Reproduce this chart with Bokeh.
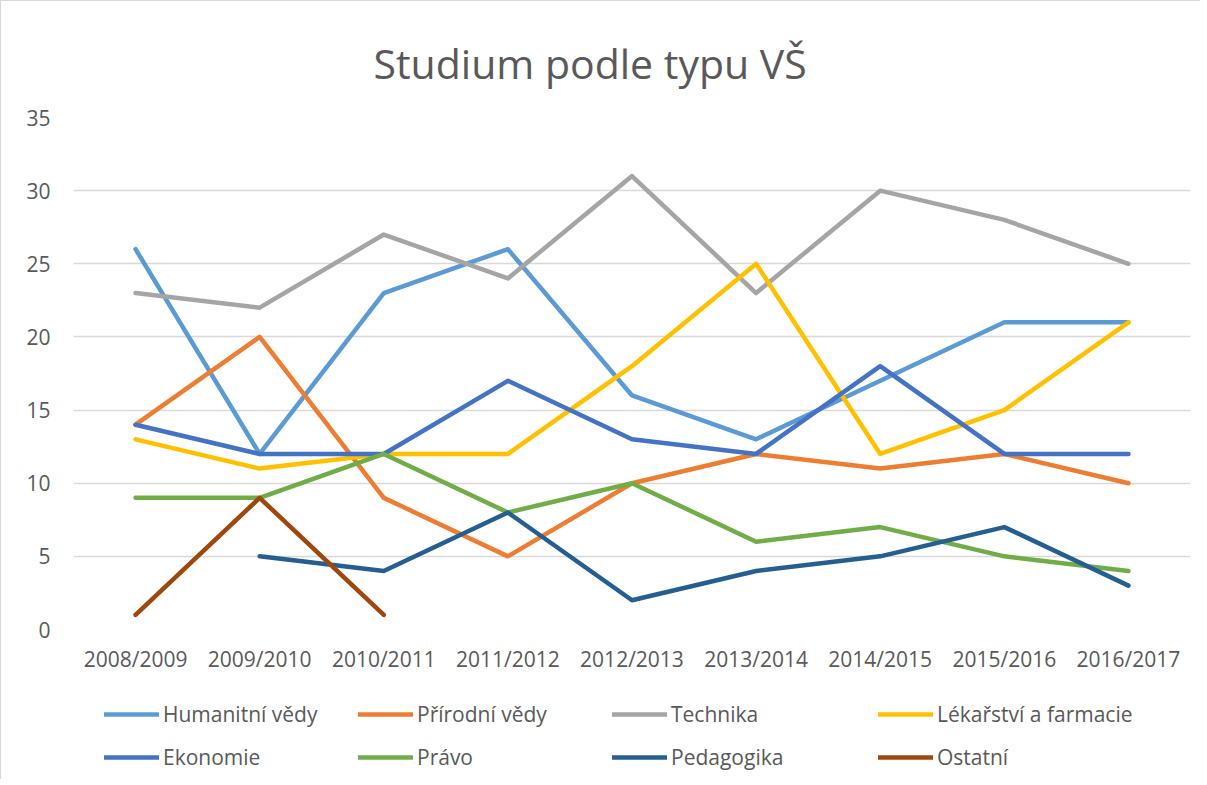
from bokeh.plotting import figure
from bokeh.layouts import column
from bokeh.models import Range1d, FactorRange, SingleIntervalTicker, Legend, LegendItem
from bokeh.embed import file_html
from bokeh.resources import INLINE

nan = float("nan")

years = ["2008/2009", "2009/2010", "2010/2011", "2011/2012", "2012/2013",
         "2013/2014", "2014/2015", "2015/2016", "2016/2017"]

humanitni = [26, 12, 23, 26, 16, 13, 17, 21, 21]
prirodni = [14, 20, 9, 5, 10, 12, 11, 12, 10]
technika = [23, 22, 27, 24, 31, 23, 30, 28, 25]
lekarstvi = [13, 11, 12, 12, 18, 25, 12, 15, 21]
ekonomie = [14, 12, 12, 17, 13, 12, 18, 12, 12]
pravo = [9, 9, 12, 8, 10, 6, 7, 5, 4]
pedagogika = [nan, 5, 4, 8, 2, 4, 5, 7, 3]
ostatni = [1, 9, 1, nan, nan, nan, nan, nan, nan]

series_names = ["Humanitní vědy", "Přírodní vědy", "Technika", "Lékařství a farmacie",
                "Ekonomie", "Právo", "Pedagogika", "Ostatní"]
series_values = [humanitni, prirodni, technika, lekarstvi, ekonomie, pravo, pedagogika, ostatni]
series_colors = ["#5B9BD5", "#ED7D31", "#A5A5A5", "#FFC000",
                 "#4472C4", "#70AD47", "#255E91", "#9E480E"]

FONT = "Open Sans"
TXT = "#595959"

# ---------------- main chart ----------------
p = figure(x_range=FactorRange(factors=years), y_range=Range1d(0, 35),
           frame_width=1117, frame_height=512,
           min_border_left=72, min_border_right=10, min_border_top=116, min_border_bottom=60,
           output_backend="svg", toolbar_location=None)

p.title.text = "Studium podle typu VŠ"
p.title.align = "left"
p.title.offset = 300
p.title.text_font = FONT
p.title.text_font_size = "41px"
p.title.text_font_style = "normal"
p.title.text_color = TXT
p.title.standoff = 53

p.outline_line_color = None
p.background_fill_color = "white"
p.border_fill_color = "white"

p.xgrid.grid_line_color = None
p.ygrid.grid_line_color = "#D9D9D9"
p.ygrid.grid_line_width = 1.5

p.yaxis.ticker = SingleIntervalTicker(interval=5)
for ax in (p.xaxis[0], p.yaxis[0]):
    ax.axis_line_color = None
    ax.major_tick_line_color = None
    ax.minor_tick_line_color = None
    ax.major_label_text_font = FONT
    ax.major_label_text_font_size = "21px"
    ax.major_label_text_color = TXT
p.yaxis.major_label_standoff = 17
p.xaxis.major_label_standoff = 9

for name, vals, col in zip(series_names, series_values, series_colors):
    p.line(years, vals, line_color=col, line_width=4.5,
           line_cap="round", line_join="round")

# ---------------- legend strip ----------------
lg = figure(x_range=FactorRange(factors=years), y_range=Range1d(100, 200),
            frame_width=1199, frame_height=90,
            min_border_left=0, min_border_right=0, min_border_top=0, min_border_bottom=0,
            x_axis_type=None, y_axis_type=None,
            output_backend="svg", toolbar_location=None)
lg.outline_line_color = None
lg.xgrid.grid_line_color = None
lg.ygrid.grid_line_color = None
lg.border_fill_color = "white"

leg_renderers = []
for name, vals, col in zip(series_names, series_values, series_colors):
    r = lg.line(years, vals, line_color=col, line_width=4.5,
                line_cap="round", line_join="round")
    leg_renderers.append(r)

col_x = [103, 357, 611, 877]
for c in range(4):
    items = [LegendItem(label=series_names[c], renderers=[leg_renderers[c]]),
             LegendItem(label=series_names[c + 4], renderers=[leg_renderers[c + 4]])]
    leg = Legend(items=items, location=(col_x[c], 8),
                 orientation="vertical", padding=0, margin=0, spacing=15,
                 glyph_width=55, glyph_height=28, label_standoff=4,
                 label_text_font=FONT, label_text_font_size="21px",
                 label_text_color=TXT, border_line_color=None,
                 background_fill_alpha=0)
    lg.add_layout(leg, "center")

layout = column(p, lg, spacing=0)
layout.styles = {"border-left": "1px solid #D9D9D9", "border-top": "1px solid #D9D9D9"}

open("out.html", "w").write(file_html(layout, INLINE))
